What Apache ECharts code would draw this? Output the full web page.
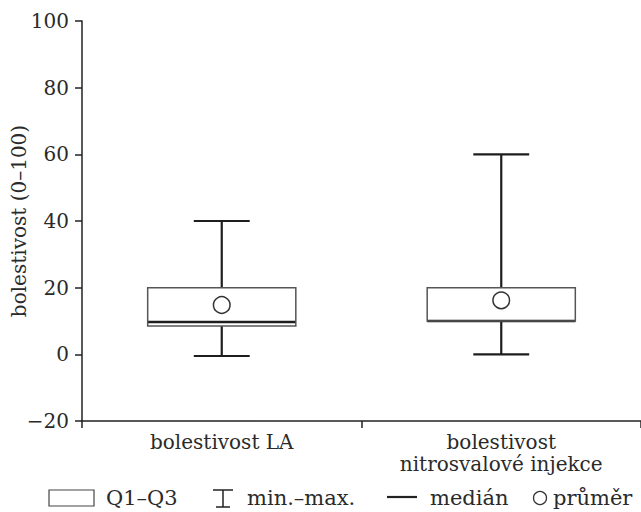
<!DOCTYPE html>
<html>
<head>
<meta charset="utf-8">
<script src="https://cdn.jsdelivr.net/npm/echarts@6/dist/echarts.min.js"></script>
<style>html,body{margin:0;padding:0;background:#fff;}#c{width:641px;height:512px;}</style>
</head>
<body>
<div id="c"></div>
<script>
const categories = ['bolestivost LA', 'bolestivost\nnitrosvalové injekce'];
const minValues = [-0.5, 0];
const q1Values = [8.5, 10];
const medianValues = [9.7, 10];
const q3Values = [20, 20];
const maxValues = [40, 60];
const meanValues = [14.8, 16.2];
const yTicks = { min: -20, max: 100, interval: 20 };
const legendLabels = ['Q1–Q3', 'min.–max.', 'medián', 'průměr'];
const yAxisName = 'bolestivost (0–100)';

const FONT = 'DejaVu Serif';
const FS = 20;
const TXT = '#2a2a2a';
const data = categories.map((c, i) => [i, minValues[i], q1Values[i], medianValues[i], q3Values[i], maxValues[i], meanValues[i]]);
const lf = '21px "DejaVu Serif"';

const chart = echarts.init(document.getElementById('c'), null, { renderer: 'svg' });
chart.setOption({
  animation: false,
  backgroundColor: '#fff',
  grid: { left: 82, right: 0, top: 21, bottom: 91, containLabel: false, outerBoundsMode: 'none' },
  xAxis: {
    type: 'category',
    data: categories,
    axisLine: { onZero: false, lineStyle: { color: '#222', width: 1.5 } },
    axisTick: { show: true, length: 7, lineStyle: { color: '#222', width: 1.5 } },
    axisLabel: { interval: 0, margin: 10, fontFamily: FONT, fontSize: FS, color: TXT, lineHeight: 22 }
  },
  yAxis: {
    type: 'value',
    min: yTicks.min, max: yTicks.max, interval: yTicks.interval,
    name: yAxisName,
    nameLocation: 'middle',
    nameGap: 53,
    nameRotate: 90,
    nameMoveOverlap: false,
    nameTextStyle: { fontFamily: FONT, fontSize: FS, color: TXT },
    axisLine: { show: true, lineStyle: { color: '#222', width: 1.5 } },
    axisTick: { show: true, length: 7, lineStyle: { color: '#222', width: 1.5 } },
    splitLine: { show: false },
    axisLabel: {
      margin: 13, fontFamily: FONT, fontSize: FS, color: TXT,
      formatter: v => (v < 0 ? '−' + Math.abs(v) : String(v))
    }
  },
  series: [{
    type: 'custom',
    data: data,
    encode: { x: 0, y: [1, 2, 3, 4, 5, 6] },
    renderItem: function (params, api) {
      const x = api.value(0);
      const band = api.size([1, 0])[0];
      const bw = band * 0.53;
      const cw = band * 0.2;
      const pMin = api.coord([x, api.value(1)]);
      const pQ1 = api.coord([x, api.value(2)]);
      const pMed = api.coord([x, api.value(3)]);
      const pQ3 = api.coord([x, api.value(4)]);
      const pMax = api.coord([x, api.value(5)]);
      const pMean = api.coord([x, api.value(6)]);
      const cx = pMin[0];
      const wStyle = { stroke: '#1e1e1e', lineWidth: 2.2, fill: null };
      return {
        type: 'group',
        children: [
          { type: 'line', shape: { x1: cx, y1: pQ3[1], x2: cx, y2: pMax[1] }, style: wStyle },
          { type: 'line', shape: { x1: cx, y1: pMin[1], x2: cx, y2: pQ1[1] }, style: wStyle },
          { type: 'line', shape: { x1: cx - cw / 2, y1: pMax[1], x2: cx + cw / 2, y2: pMax[1] }, style: wStyle },
          { type: 'line', shape: { x1: cx - cw / 2, y1: pMin[1], x2: cx + cw / 2, y2: pMin[1] }, style: wStyle },
          { type: 'line', shape: { x1: cx - bw / 2, y1: pMed[1], x2: cx + bw / 2, y2: pMed[1] }, style: { stroke: '#1e1e1e', lineWidth: 2.5 } },
          { type: 'rect', shape: { x: cx - bw / 2, y: pQ3[1], width: bw, height: pQ1[1] - pQ3[1] }, style: { fill: 'none', stroke: '#555', lineWidth: 1.5 } },
          { type: 'circle', shape: { cx: cx, cy: pMean[1], r: 8.3 }, style: { fill: '#fff', stroke: '#333', lineWidth: 1.5 } }
        ]
      };
    }
  }],
  graphic: [
    { type: 'rect', shape: { x: 49, y: 490, width: 45, height: 16 }, style: { fill: '#fff', stroke: '#444', lineWidth: 1.2 } },
    { type: 'text', x: 106, y: 498, style: { text: legendLabels[0], font: lf, fill: TXT, verticalAlign: 'middle' } },
    { type: 'line', shape: { x1: 213, y1: 490, x2: 233, y2: 490 }, style: { stroke: '#222', lineWidth: 1.5 } },
    { type: 'line', shape: { x1: 223, y1: 490, x2: 223, y2: 507 }, style: { stroke: '#222', lineWidth: 1.5 } },
    { type: 'line', shape: { x1: 216, y1: 507, x2: 230, y2: 507 }, style: { stroke: '#222', lineWidth: 1.5 } },
    { type: 'text', x: 247, y: 498, style: { text: legendLabels[1], font: lf, fill: TXT, verticalAlign: 'middle' } },
    { type: 'line', shape: { x1: 387, y1: 497, x2: 417, y2: 497 }, style: { stroke: '#222', lineWidth: 2.2 } },
    { type: 'text', x: 430, y: 498, style: { text: legendLabels[2], font: lf, fill: TXT, verticalAlign: 'middle' } },
    { type: 'circle', shape: { cx: 540, cy: 498, r: 6.5 }, style: { fill: '#fff', stroke: '#333', lineWidth: 1.3 } },
    { type: 'text', x: 553, y: 498, style: { text: legendLabels[3], font: lf, fill: TXT, verticalAlign: 'middle' } }
  ]
});
</script>
</body>
</html>
